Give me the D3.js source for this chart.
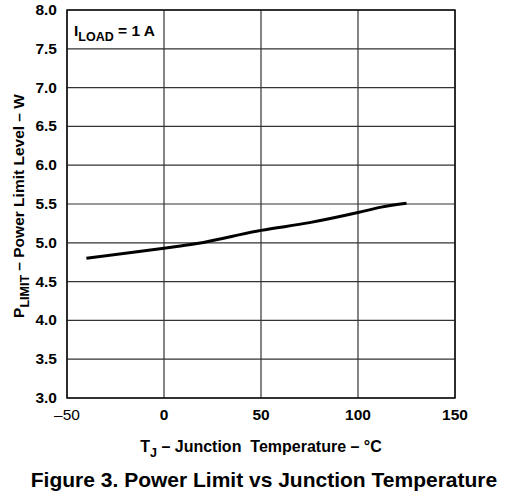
<!DOCTYPE html>
<html>
<head>
<meta charset="utf-8">
<script src="https://cdn.jsdelivr.net/npm/d3@7"></script>
<style>
  body { margin: 0; background: #fff; }
  text { font-family: "Liberation Sans", Arial, sans-serif; fill: #000; }
</style>
</head>
<body>
<div id="chart"></div>
<script>
const width = 517,
    height = 500

// junction temperature (°C) and power limit (W)
const tempC = [-40, 0, 17, 50, 75, 100, 112, 125]
const powerW = [4.80, 4.93, 4.99, 5.16, 5.26, 5.39, 5.46, 5.51]
const xTicks = [-50, 0, 50, 100, 150]
const yTicks = [3.0, 3.5, 4.0, 4.5, 5.0, 5.5, 6.0, 6.5, 7.0, 7.5, 8.0]

const margin = { left: 67, right: 62, top: 10, bottom: 102 }

const svg = d3.select("#chart")
    .append("svg")
        .attr("width", width)
        .attr("height", height)

const x = d3.scaleLinear().domain([-50, 150]).range([margin.left, width - margin.right])
const y = d3.scaleLinear().domain([3, 8]).range([height - margin.bottom, margin.top])

// grid
svg.append("g").selectAll("line")
    .data(xTicks)
    .enter().append("line")
        .attr("x1", d => x(d)).attr("x2", d => x(d))
        .attr("y1", y(3)).attr("y2", y(8))
        .attr("stroke", "#333").attr("stroke-width", 1.2)

svg.append("g").selectAll("line")
    .data(yTicks)
    .enter().append("line")
        .attr("x1", x(-50)).attr("x2", x(150))
        .attr("y1", d => y(d)).attr("y2", d => y(d))
        .attr("stroke", "#333").attr("stroke-width", 1.2)

svg.append("rect")
    .attr("x", x(-50)).attr("y", y(8))
    .attr("width", x(150) - x(-50)).attr("height", y(3) - y(8))
    .attr("fill", "none").attr("stroke", "#111").attr("stroke-width", 1.5)

// tick labels
svg.append("g").selectAll("text")
    .data(yTicks)
    .enter().append("text")
        .attr("x", 57)
        .attr("y", d => y(d) + 5)
        .attr("text-anchor", "end")
        .attr("font-size", 15.5)
        .attr("font-weight", "bold")
        .text(d => d3.format(".1f")(d))

svg.append("g").selectAll("text")
    .data(xTicks)
    .enter().append("text")
        .attr("x", d => x(d))
        .attr("y", 420)
        .attr("text-anchor", "middle")
        .attr("font-size", 15.5)
        .attr("font-weight", d => d < 0 ? "normal" : "bold")
        .text(d => d < 0 ? "\u2013" + Math.abs(d) : d)

// curve
const line = d3.line()
    .x((d, i) => x(tempC[i]))
    .y(d => y(d))
    .curve(d3.curveMonotoneX)

svg.append("path")
    .datum(powerW)
    .attr("d", line)
    .attr("fill", "none")
    .attr("stroke", "#000")
    .attr("stroke-width", 3)

// condition label
const cond = svg.append("text")
    .attr("x", 74).attr("y", 36)
    .attr("font-size", 15.5).attr("font-weight", "bold")
cond.append("tspan").text("I")
cond.append("tspan").attr("dy", 5).attr("font-size", 12.5).text("LOAD")
cond.append("tspan").attr("dy", -5).text(" = 1 A")

// y axis title
const yl = svg.append("text")
    .attr("transform", "translate(24,206) rotate(-90)")
    .attr("text-anchor", "middle")
    .attr("font-size", 15.5).attr("font-weight", "bold")
yl.append("tspan").text("P")
yl.append("tspan").attr("dy", 5).attr("font-size", 12.5).text("LIMIT")
yl.append("tspan").attr("dy", -5).text(" \u2013 Power Limit Level \u2013 W")

// x axis title
const xl = svg.append("text")
    .attr("x", 261).attr("y", 452)
    .attr("text-anchor", "middle")
    .attr("font-size", 16).attr("font-weight", "bold")
    .attr("xml:space", "preserve")
xl.append("tspan").text("T")
xl.append("tspan").attr("dy", 5).attr("font-size", 12.5).text("J")
xl.append("tspan").attr("dy", -5).text(" \u2013 Junction  Temperature \u2013 \u00B0C")

svg.append("text")
    .attr("x", 264).attr("y", 487)
    .attr("text-anchor", "middle")
    .attr("font-size", 21).attr("font-weight", "bold")
    .text("Figure 3. Power Limit vs Junction Temperature")
</script>
</body>
</html>
